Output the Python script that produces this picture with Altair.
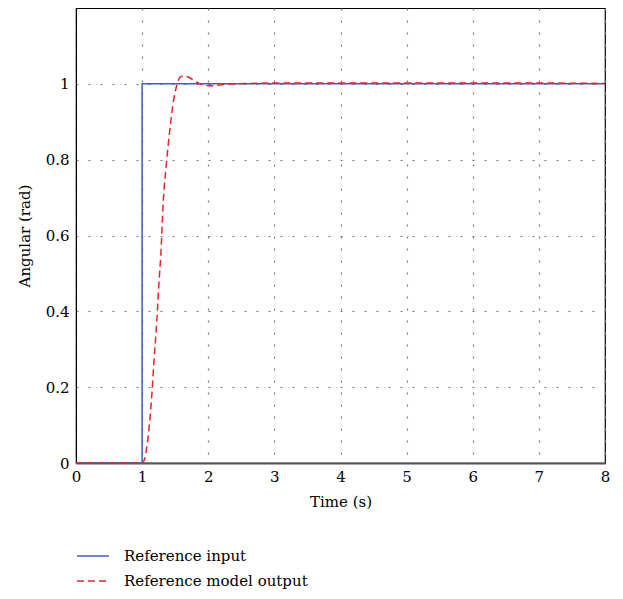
import altair as alt
import pandas as pd

# Reference input (unit step at t = 1 s)
input_t = [0, 1, 1, 8]
input_y = [0, 0, 1, 1]

# Reference model output
model_t = [0, 1.0, 1.02, 1.095, 1.147, 1.18, 1.22, 1.26, 1.28, 1.32, 1.37, 1.42,
           1.473, 1.525, 1.575, 1.625, 1.72, 1.82, 1.92, 2.07, 2.22, 2.6, 3.0,
           4.0, 5.0, 6.0, 7.0, 8.0]
model_y = [0, 0, 0.003, 0.076, 0.18, 0.27, 0.37, 0.49, 0.54, 0.69, 0.795, 0.88,
           0.953, 0.997, 1.018, 1.021, 1.016, 1.005, 0.997, 0.995, 0.998, 1.001,
           1.002, 1.002, 1.002, 1.002, 1.002, 1.001]

series_names = ["Reference input", "Reference model output"]

df = pd.concat([
    pd.DataFrame({"t": input_t, "y": input_y, "series": series_names[0], "o": range(len(input_t))}),
    pd.DataFrame({"t": model_t, "y": model_y, "series": series_names[1], "o": range(len(model_t))}),
])

FONT = "DejaVu Serif"
FS = 15

legend = alt.Legend(title=None, orient="none", legendX=0, legendY=531,
                    symbolType="stroke", symbolSize=1024, symbolStrokeWidth=1.5,
                    labelFont=FONT, labelFontSize=FS, labelColor="black", labelLimit=400,
                    rowPadding=-8, labelOffset=14)
color = alt.Color("series:N", scale=alt.Scale(domain=series_names, range=["#3f5fb0", "#f0202a"]),
                  legend=legend)
dash = alt.StrokeDash("series:N", scale=alt.Scale(domain=series_names, range=[[1, 0], [7, 4]]),
                      legend=legend)

x = alt.X("t:Q", scale=alt.Scale(domain=[0, 8], nice=False),
          axis=alt.Axis(title="Time (s)", values=list(range(9)), format="d",
                        grid=True, gridDash=[2, 10], gridColor="#777", gridWidth=1.2,
                        ticks=False, domainColor="#555", domainWidth=2, labelFlush=False,
                        labelFont=FONT, labelFontSize=FS, labelColor="black", labelPadding=6,
                        titleFont=FONT, titleFontSize=FS, titleFontWeight="normal",
                        titleColor="black", titlePadding=10))
y = alt.Y("y:Q", scale=alt.Scale(domain=[0, 1.2], nice=False),
          axis=alt.Axis(title="Angular (rad)", values=[0, 0.2, 0.4, 0.6, 0.8, 1.0],
                        labelExpr="datum.value == 0 ? '0' : datum.value == 1 ? '1' : format(datum.value, '.1f')",
                        grid=True, gridDash=[2, 10], gridColor="#777", gridWidth=1.2,
                        ticks=False, domainColor="black", domainWidth=1, labelFlush=False,
                        labelFont=FONT, labelFontSize=FS, labelColor="black", labelPadding=7,
                        titleFont=FONT, titleFontSize=FS, titleFontWeight="normal",
                        titleColor="black", titlePadding=13))

base = alt.Chart(df)
blue = base.transform_filter(alt.datum.series == series_names[0]).mark_line(strokeWidth=1.5).encode(
    x=x, y=y, color=color, strokeDash=dash, order="o:Q")
red = base.transform_filter(alt.datum.series == series_names[1]).mark_line(strokeWidth=1.5, interpolate="monotone").encode(
    x=x, y=y, color=color, strokeDash=dash, order="o:Q")

chart = alt.layer(blue, red).properties(
    width=529, height=455,
    background="white",
    autosize=alt.AutoSizeParams(type="none"),
    padding={"left": 68, "top": 0, "right": 10, "bottom": 133},
).configure_view(stroke="black", strokeWidth=1.2)

chart.save("out.html", embed_options={"renderer": "svg", "actions": False})
